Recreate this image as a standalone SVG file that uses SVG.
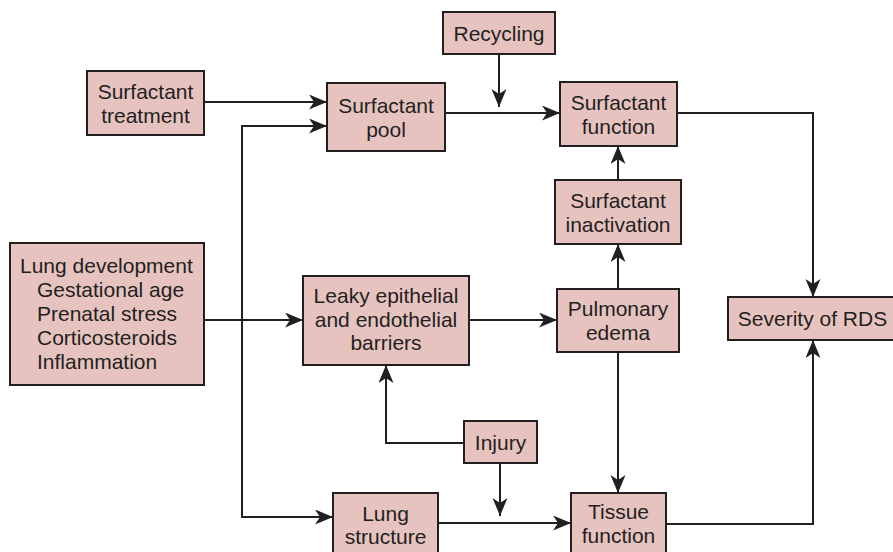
<svg xmlns="http://www.w3.org/2000/svg" width="893" height="552" viewBox="0 0 893 552">
<style>
.box{fill:#e7c3c0;stroke:#231f20;stroke-width:2}
.t{font-family:"Liberation Sans",Arial,sans-serif;font-size:21px;fill:#231f20;text-anchor:middle}
.l{text-anchor:start}
.c{fill:none;stroke:#231f20;stroke-width:2;marker-end:url(#a)}
</style>
<defs>
<marker id="a" markerUnits="userSpaceOnUse" markerWidth="20" markerHeight="16" refX="18" refY="7.5" orient="auto">
<path d="M0,0 L18,7.5 L0,15 L5,7.5 z" fill="#231f20"/>
</marker>
</defs>
<rect width="893" height="552" fill="#ffffff"/>
<g id="connectors">
<path class="c" d="M204,102 H327"/>
<path class="c" d="M242,320 V126 H327"/>
<path class="c" d="M242,320 V517 H333"/>
<path class="c" d="M204,320 H303"/>
<path class="c" d="M499,54 V107"/>
<path class="c" d="M445,113 H560"/>
<path class="c" d="M677,113 H813 V297"/>
<path class="c" d="M618,180 V146"/>
<path class="c" d="M618,289 V244"/>
<path class="c" d="M469,320 H557"/>
<path class="c" d="M618,352 V493"/>
<path class="c" d="M464,443 H386 V365"/>
<path class="c" d="M500,463 V516"/>
<path class="c" d="M438,523 H571"/>
<path class="c" d="M666,524 H813 V340"/>
</g>
<g id="surfactant-treatment">
<rect class="box" x="87" y="71" width="117" height="64"/>
<text class="t" x="145.5" y="98.5">Surfactant</text>
<text class="t" x="145.5" y="122.5">treatment</text>
</g>
<g id="surfactant-pool">
<rect class="box" x="327" y="83" width="118" height="68"/>
<text class="t" x="386" y="112.5">Surfactant</text>
<text class="t" x="386" y="136.5">pool</text>
</g>
<g id="recycling">
<rect class="box" x="443" y="12" width="112" height="42"/>
<text class="t" x="499" y="40.5">Recycling</text>
</g>
<g id="surfactant-function">
<rect class="box" x="560" y="82" width="117" height="64"/>
<text class="t" x="618.5" y="109.5">Surfactant</text>
<text class="t" x="618.5" y="133.5">function</text>
</g>
<g id="surfactant-inactivation">
<rect class="box" x="555" y="180" width="126" height="64"/>
<text class="t" x="618" y="207.5">Surfactant</text>
<text class="t" x="618" y="231.5">inactivation</text>
</g>
<g id="lung-development">
<rect class="box" x="10" y="243" width="194" height="142"/>
<text class="t l" x="20" y="273">Lung development</text>
<text class="t l" x="37" y="297">Gestational age</text>
<text class="t l" x="37" y="321">Prenatal stress</text>
<text class="t l" x="37" y="345">Corticosteroids</text>
<text class="t l" x="37" y="369">Inflammation</text>
</g>
<g id="leaky-barriers">
<rect class="box" x="303" y="276" width="166" height="89"/>
<text class="t" x="386" y="303">Leaky epithelial</text>
<text class="t" x="386" y="327">and endothelial</text>
<text class="t" x="386" y="350">barriers</text>
</g>
<g id="pulmonary-edema">
<rect class="box" x="557" y="289" width="122" height="63"/>
<text class="t" x="618" y="316">Pulmonary</text>
<text class="t" x="618" y="340">edema</text>
</g>
<g id="severity-rds">
<rect class="box" x="728" y="297" width="170" height="43"/>
<text class="t" x="812.5" y="326">Severity of RDS</text>
</g>
<g id="injury">
<rect class="box" x="464" y="421" width="73" height="42"/>
<text class="t" x="500.5" y="449.5">Injury</text>
</g>
<g id="lung-structure">
<rect class="box" x="333" y="493" width="105" height="70"/>
<text class="t" x="385.5" y="521">Lung</text>
<text class="t" x="385.5" y="544">structure</text>
</g>
<g id="tissue-function">
<rect class="box" x="571" y="493" width="95" height="70"/>
<text class="t" x="618.5" y="519">Tissue</text>
<text class="t" x="618.5" y="543">function</text>
</g>
</svg>
